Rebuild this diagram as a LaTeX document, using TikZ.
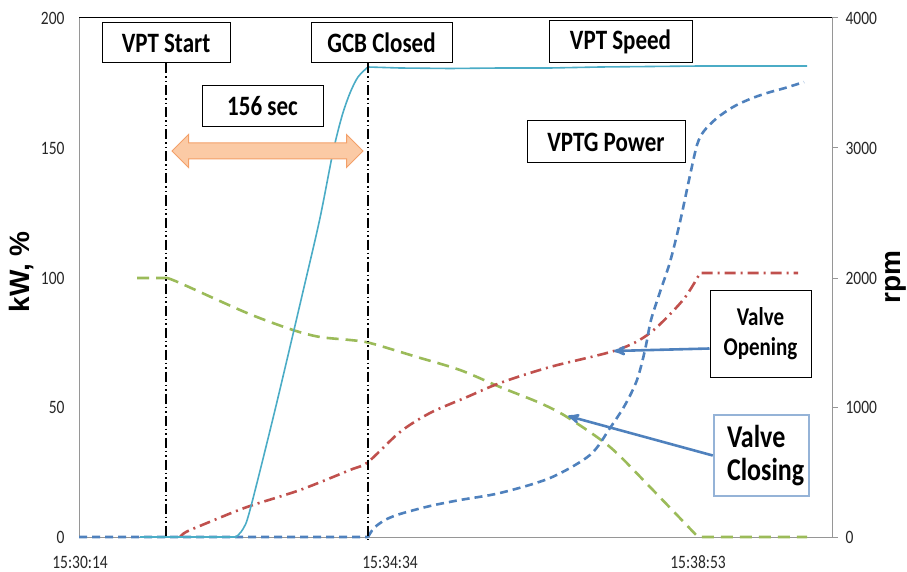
\documentclass[tikz,border=0pt]{standalone}
\usepackage{graphicx}
\usepackage{fontspec}
\setmainfont{Carlito}
\newfontfamily\titlefont{Liberation Sans}
\usetikzlibrary{arrows,shapes.arrows}

\newcommand{\tall}[1]{\scalebox{1}[1.22]{#1}}

\definecolor{speedcol}{RGB}{75,172,198}
\definecolor{powercol}{RGB}{79,129,189}
\definecolor{opencol}{RGB}{192,80,77}
\definecolor{closecol}{RGB}{155,187,89}
\definecolor{spanfill}{RGB}{251,202,165}
\definecolor{spanedge}{RGB}{243,160,105}
\definecolor{closeedge}{RGB}{149,179,215}
\definecolor{axisgray}{RGB}{150,150,150}

\begin{document}
\begin{tikzpicture}[x=1pt,y=-1pt,>=stealth',
  label box/.style={draw,line width=1pt,fill=white,inner sep=0pt,
    font=\bfseries\fontsize{23}{26}\selectfont},
  tick label/.style={font=\fontsize{15.5}{15.5}\selectfont,text=black!85},
  axis title/.style={rotate=90,font=\titlefont\bfseries\fontsize{28}{28}\selectfont},
  marker line/.style={line width=1.1pt,
    dash pattern=on 10pt off 3pt on 1.5pt off 3pt on 1.5pt off 3pt},
  note arrow/.style={->,draw=powercol,line width=2.6pt}]

 \useasboundingbox (0,0) rectangle (907,572);

 % plot frame
 \draw[line width=1pt] (79,18) -- (832,18);
 \draw[axisgray,line width=1pt] (79,18) -- (79,537) -- (832,537) -- (832,18);
 \foreach \v/\yy in {0/537,50/407,100/278,150/148,200/18}
   \node[tick label,anchor=east] (left\v) at (68,\yy) {\tall{\v}};
 \foreach \v/\yy in {0/537,1000/407,2000/278,3000/148,4000/18}{
   \draw[axisgray,line width=1pt] (832,\yy) -- (838,\yy);
   \node[tick label,anchor=west] (right\v) at (842,\yy) {\tall{\v}};
 }
 \node[tick label] (t1) at (80,562) {\tall{15:30:14}};
 \node[tick label] (t2) at (390,562) {\tall{15:34:34}};
 \node[tick label] (t3) at (698,562) {\tall{15:38:53}};
 \node[axis title] (kw) at (22,272) {kW, \%};
 \node[axis title] (rpm) at (896,277) {rpm};

 % valve closing
 \draw[closecol,line width=2.6pt,dash pattern=on 12pt off 7pt]
   (137,278) -- (167,278)
   plot[smooth] coordinates {(167,278) (180,283) (247,313) (293,330) (320,337)
     (350,340) (370,343) (417,357) (460,370) (500,387) (540,403) (567,417)
     (610,447) (650,487) (698,537)} -- (807,537);

 % valve opening
 \draw[opencol,line width=2.6pt,dash pattern=on 11pt off 5pt on 2pt off 5pt]
   plot[smooth] coordinates {(180,537) (186,532) (207,523) (247,507) (300,490)
     (350,470) (368,462) (400,432) (430,413) (467,397) (500,383) (550,367)
     (617,350) (650,333) (683,300) (700,273)} -- (798,273);

 % vptg power
 \draw[powercol,line width=2.6pt,dash pattern=on 8pt off 5pt]
   (79,537) -- (368,537)
   plot[smooth] coordinates {(368,537) (374,528) (385,520) (400,514) (430,506)
     (460,500) (500,493) (550,478) (590,455) (610,428) (625,405) (637,380)
     (645,350) (651,320) (660,292) (670,262) (680,222) (689,180) (697,145)
     (704,131) (717,118) (733,107) (750,99) (767,93) (785,88) (804,82)};

 % vpt speed
 \draw[speedcol,line width=1.6pt] (140,537) -- (236,537)
   plot[smooth] coordinates {(236,537) (243,529) (250,510) (275,410) (305,283)
     (320,218) (333,152) (342,116) (350,93) (358,77) (368,67)}
   -- (400,68) -- (450,68.5) -- (500,68) -- (550,68) -- (600,67)
   -- (650,66.5) -- (700,66) -- (750,66) -- (807,66);

 % labels and markers
 \node[label box,minimum width=128,minimum height=40] (start) at (166,43) {\tall{VPT Start}};
 \node[label box,minimum width=141,minimum height=40] (gcb) at (381.5,43) {\tall{GCB Closed}};
 \node[label box,minimum width=121,minimum height=41] (span) at (262.5,106.5) {\tall{156 sec}};
 \node[label box,minimum width=143,minimum height=42] (speed) at (620.5,42) {\tall{VPT Speed}};
 \node[label box,minimum width=158,minimum height=42] (power) at (606,142) {\tall{VPTG Power}};
 \node[label box,minimum width=101,minimum height=87,align=center,
   font=\bfseries\fontsize{21}{30}\selectfont] (open) at (760.5,333.5)
   {\tall{Valve}\\\tall{Opening}};
 \node[label box,draw=closeedge,line width=2.5pt,minimum width=95,minimum height=81,
   text width=69pt,align=left,
   font=\bfseries\fontsize{26}{33}\selectfont] (close) at (761.5,455.5)
   {\tall{Valve}\\\tall{Closing}};

 \coordinate (startfoot) at (166,537);
 \coordinate (gcbfoot) at (368,540);
 \draw[marker line] (start.south) -- (startfoot);
 \draw[marker line] (gcbfoot |- gcb.south) -- (gcbfoot);

 \node[double arrow,draw=spanedge,fill=spanfill,line width=1pt,
   inner xsep=0pt,inner ysep=7.5pt,double arrow head extend=8.5pt,
   minimum height=191] (gap) at (267.5,151) {};

 \coordinate (openhead) at (614,351);
 \coordinate (closehead) at (568,416);
 \draw[note arrow] ([yshift=-15pt]open.west) -- (openhead);
 \draw[note arrow] (close.west) -- (closehead);
\end{tikzpicture}
\end{document}
